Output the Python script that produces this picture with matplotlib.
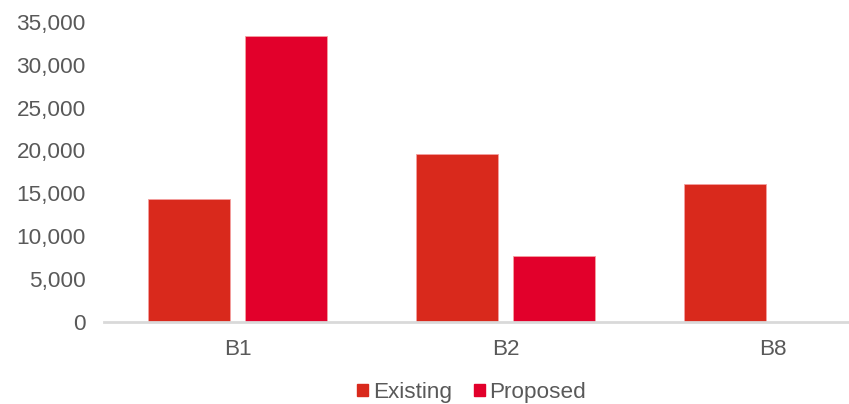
import numpy as np
import matplotlib.pyplot as plt
from matplotlib.ticker import FuncFormatter
from matplotlib.patches import Patch

plt.rcParams['font.family'] = ['Liberation Sans', 'DejaVu Sans']

categories = ['B1', 'B2', 'B8']
existing = [14300, 19550, 16100]
proposed = [33300, 7650, 0]

c_existing = '#D9291C'
c_proposed = '#E2002B'
grey = '#595959'

fig = plt.figure(figsize=(8.49, 4.04), dpi=100)
# the original is cropped on the right, so the axes run past the figure edge
ax = fig.add_axes([104 / 849, 1 - 322 / 404, 803 / 849, (322 - 21.7) / 404])

x = np.arange(len(categories))
w = 0.306
off = 0.181
ax.bar(x - off, existing, w, color=c_existing, edgecolor='#f4a0a0', linewidth=0.6)
ax.bar(x + off, proposed, w, color=c_proposed, edgecolor='#f4a0a0', linewidth=0.6)

ax.set_xlim(-0.5, 2.5)
ax.set_ylim(0, 35000)
ax.set_yticks(range(0, 35001, 5000))
ax.yaxis.set_major_formatter(FuncFormatter(lambda v, p: f'{int(v):,}'))
ax.set_xticks(x)
ax.set_xticklabels(categories)

for s in ['top', 'right', 'left']:
    ax.spines[s].set_visible(False)
ax.spines['bottom'].set_color('#d9d9d9')
ax.spines['bottom'].set_linewidth(2)
ax.tick_params(axis='both', length=0, labelsize=16.2, colors=grey)
ax.tick_params(axis='y', pad=13)
ax.tick_params(axis='x', pad=12)

handles = [Patch(color=c_existing, label='Existing'), Patch(color=c_proposed, label='Proposed')]
leg = fig.legend(handles=handles, loc='lower left', bbox_to_anchor=(357 / 849, 1 / 404),
                 ncol=2, frameon=False, fontsize=16.2, handlelength=0.5, handleheight=0.5,
                 handletextpad=0.2, columnspacing=0.98, borderpad=0, borderaxespad=0)
for t in leg.get_texts():
    t.set_color(grey)

fig.savefig('out.png', dpi=100)
